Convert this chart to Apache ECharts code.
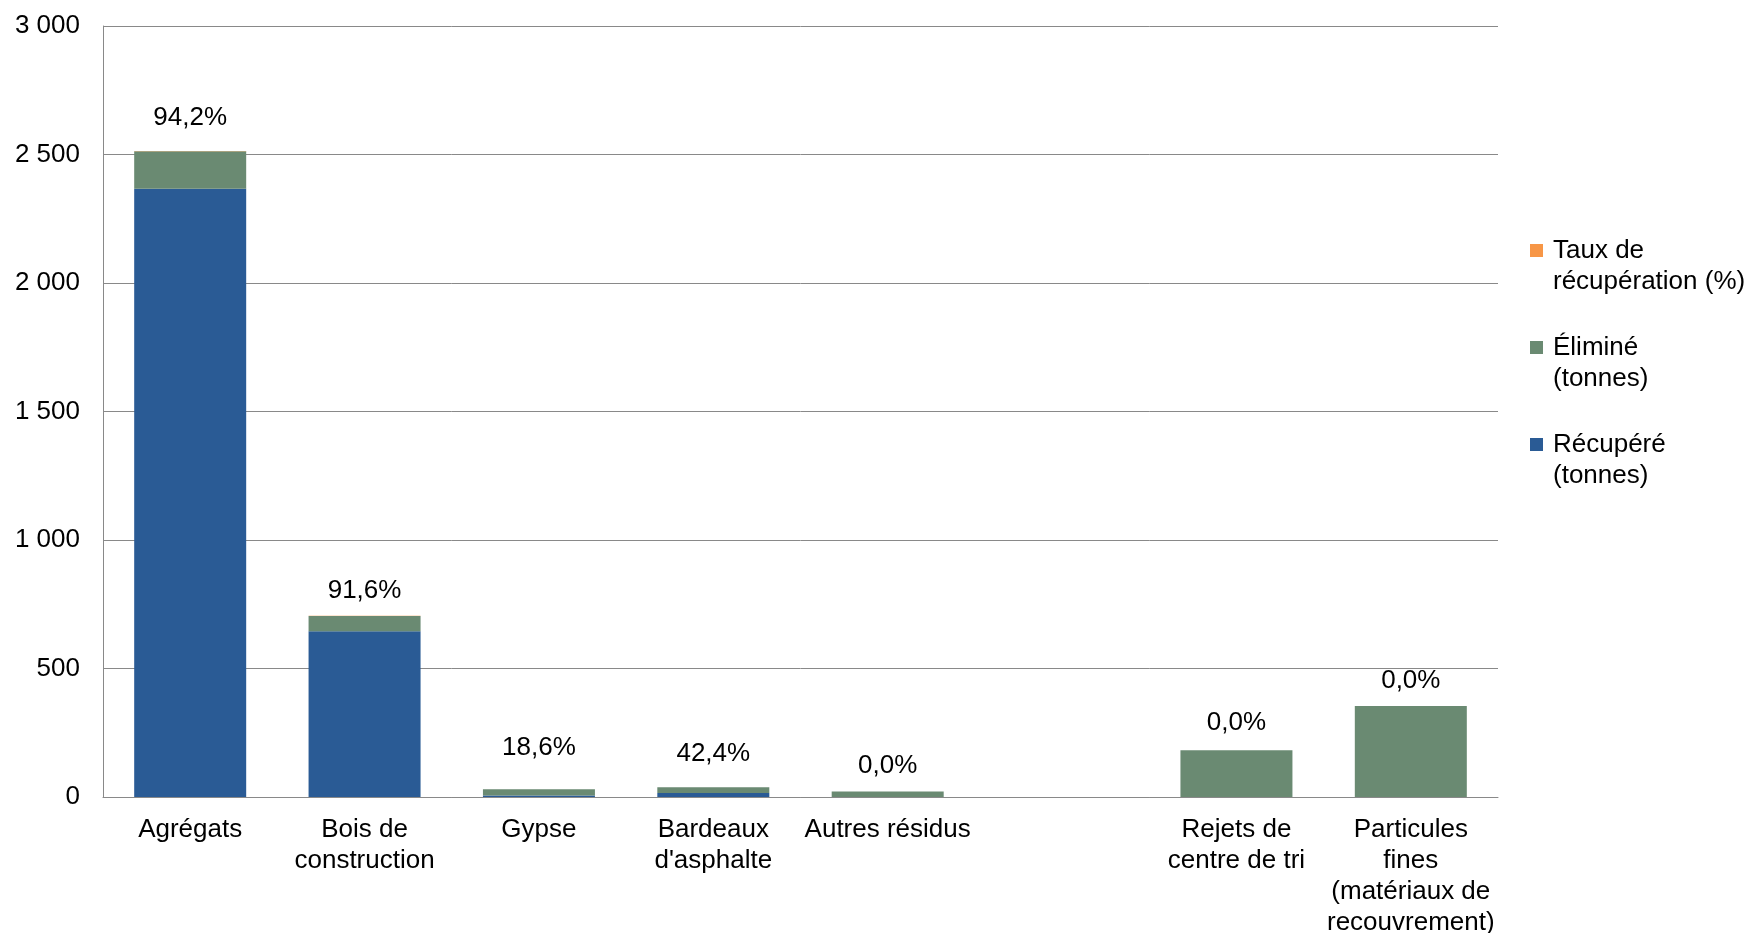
<!DOCTYPE html>
<html><head><meta charset="utf-8">
<script src="https://cdn.jsdelivr.net/npm/echarts@6/dist/echarts.min.js"></script>
<style>html,body{margin:0;padding:0;background:#fff}#c{width:1750px;height:933px}</style>
</head><body><div id="c"></div>
<script>
const categories = ["Agrégats", "Bois de\nconstruction", "Gypse", "Bardeaux\nd'asphalte", "Autres résidus", "", "Rejets de\ncentre de tri", "Particules\nfines\n(matériaux de\nrecouvrement)"];
const recupere = [2367, 645, 6, 16, 0, null, 0, 0];
const elimine = [146, 59, 24, 22, 21, null, 182, 354];
const taux = [0.942, 0.916, 0.186, 0.424, 0.0, null, 0.0, 0.0];
const seriesNames = ["Récupéré (tonnes)", "Éliminé (tonnes)", "Taux de récupération (%)"];
const legendText = {"Récupéré (tonnes)": "Récupéré\n(tonnes)", "Éliminé (tonnes)": "Éliminé\n(tonnes)", "Taux de récupération (%)": "Taux de\nrécupération (%)"};
const yMin = 0, yMax = 3000, yStep = 500;

// label styling (distance above bar tops)
const labelGap = [20, 12, 28, 20, 13, 15, 14, 12];

const FONT = "'Liberation Sans', Arial, sans-serif";
const chart = echarts.init(document.getElementById('c'), null, {renderer: 'canvas'});
const fmtNum = v => String(v).replace(/\B(?=(\d{3})+(?!\d))/g, ' ');
const fmtPct = v => (v * 100).toFixed(1).replace('.', ',') + '%';

chart.setOption({
  animation: false,
  backgroundColor: '#fff',
  grid: {left: 103, right: 252, top: 26, bottom: 136, containLabel: false, outerBoundsMode: 'none'},
  legend: {
    orient: 'vertical', left: 1530, top: 204, padding: 0,
    itemWidth: 13, itemHeight: 13, itemGap: 4, icon: 'rect',
    data: [seriesNames[2], seriesNames[1], seriesNames[0]],
    formatter: name => '\n' + legendText[name],
    textStyle: {fontSize: 26, lineHeight: 31, color: '#000', fontFamily: FONT, padding: [0, 0, 0, 5]}
  },
  xAxis: {
    type: 'category', data: categories,
    axisLine: {show: true, lineStyle: {color: '#898989', width: 1}},
    axisTick: {show: false},
    axisLabel: {interval: 0, margin: 17, fontSize: 26, lineHeight: 31, color: '#000', fontFamily: FONT}
  },
  yAxis: {
    type: 'value', min: yMin, max: yMax, interval: yStep,
    axisLine: {show: true, lineStyle: {color: '#898989', width: 1}},
    axisTick: {show: false},
    splitLine: {show: true, lineStyle: {color: '#898989', width: 1}},
    axisLabel: {margin: 23, fontSize: 26, color: '#000', fontFamily: FONT, formatter: fmtNum}
  },
  series: [
    {name: seriesNames[0], type: 'bar', stack: 'a', barWidth: 112, data: recupere,
     itemStyle: {color: '#2A5B95'}},
    {name: seriesNames[1], type: 'bar', stack: 'a', barWidth: 112, data: elimine,
     itemStyle: {color: '#6A8A72'}},
    {name: seriesNames[2], type: 'bar', stack: 'a', barWidth: 112,
     data: taux.map((v, i) => v === null ? '-' : {value: v, label: {distance: labelGap[i]}}),
     itemStyle: {color: '#F79646'},
     label: {show: true, position: 'top', fontSize: 26, lineHeight: 26, color: '#000', fontFamily: FONT,
             formatter: p => fmtPct(p.value)}}
  ]
});
</script></body></html>
